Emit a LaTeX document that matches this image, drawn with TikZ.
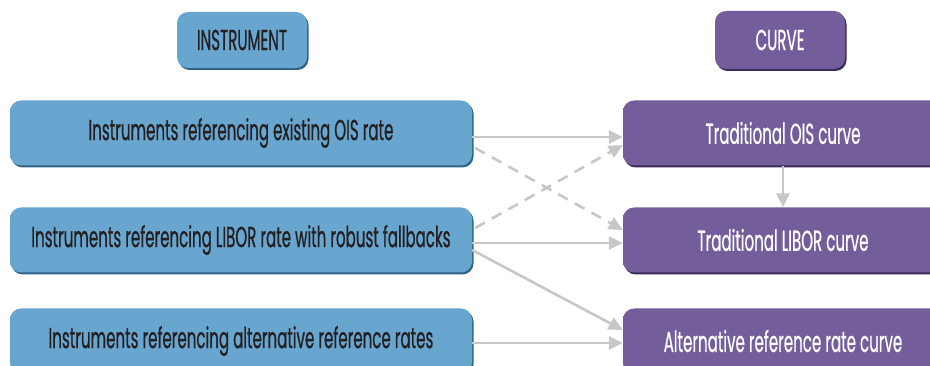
\documentclass[tikz,border=0pt]{standalone}
\usepackage{fontspec}
\setmainfont{Poppins}[FakeStretch=0.52, FakeBold=0.5]
\usetikzlibrary{arrows.meta,calc,shadows}
\definecolor{bMain}{HTML}{68A5CF}
\definecolor{bLight}{HTML}{9CC6E4}
\definecolor{bDark}{HTML}{2F6489}
\definecolor{pMain}{HTML}{735E9B}
\definecolor{pLight}{HTML}{A291C0}
\definecolor{pDark}{HTML}{3B2A5C}
\definecolor{txt}{HTML}{231F20}
\definecolor{arr}{HTML}{C6C7C9}
\pgfdeclareverticalshading{bshade}{100bp}{color(0bp)=(bDark); color(5bp)=(bMain); color(88bp)=(bMain); color(97bp)=(bLight); color(100bp)=(bLight)}
\pgfdeclareverticalshading{pshade}{100bp}{color(0bp)=(pDark); color(5bp)=(pMain); color(88bp)=(pMain); color(97bp)=(pLight); color(100bp)=(pLight)}
\tikzset{
  box/.style={rounded corners=11pt, inner sep=0pt, font=\fontsize{29}{33}\selectfont},
  bbox/.style={box, shading=bshade, text=txt, drop shadow={shadow xshift=1.5pt, shadow yshift=-2pt, fill=bDark, opacity=1}},
  pbox/.style={box, shading=pshade, text=white, drop shadow={shadow xshift=1.5pt, shadow yshift=-2pt, fill=pDark, opacity=1}},
  lbox/.style={bbox, minimum width=462pt, minimum height=65pt},
  rbox/.style={pbox, minimum width=320pt, minimum height=65pt},
  conn/.style={draw=arr, line width=2.6pt, -{Triangle[length=14pt, width=13pt]}},
  dconn/.style={conn, dash pattern=on 11pt off 8pt},
}
\begin{document}
\begin{tikzpicture}[x=1pt,y=-1pt]
\useasboundingbox (0,0) rectangle (930,366);
\node[bbox, minimum width=130pt, minimum height=56pt] (hi) at (242,40) {INSTRUMENT};
\node[pbox, minimum width=130pt, minimum height=58pt] (hc) at (780,40) {CURVE};
\node[lbox] (b1) at (241,133) {Instruments referencing existing OIS rate};
\node[lbox] (b2) at (241,240) {Instruments referencing LIBOR rate with robust fallbacks};
\node[lbox] (b3) at (241,341) {Instruments referencing alternative reference rates};
\node[rbox] (c1) at (783,133) {Traditional OIS curve};
\node[rbox] (c2) at (783,240) {Traditional LIBOR curve};
\node[rbox] (c3) at (783,341) {Alternative reference rate curve};
\draw[conn] ([yshift=-4pt]b1.east) -- ([yshift=-4pt]c1.west);
\draw[dconn] ([xshift=3pt,yshift=-15pt]b1.east) -- ([yshift=10pt]c2.west);
\draw[dconn] ([xshift=3pt,yshift=12pt]b2.east) -- ([yshift=-12pt]c1.west);
\draw[conn] ([yshift=-3pt]b2.east) -- ([yshift=-3pt]c2.west);
\draw[conn] ([yshift=-10pt]b2.east) -- ([yshift=11pt]c3.west);
\draw[conn] ([yshift=-2pt]b3.east) -- ([yshift=-2pt]c3.west);
\draw[conn] (c1.south) -- (c2.north);
\end{tikzpicture}
\end{document}
